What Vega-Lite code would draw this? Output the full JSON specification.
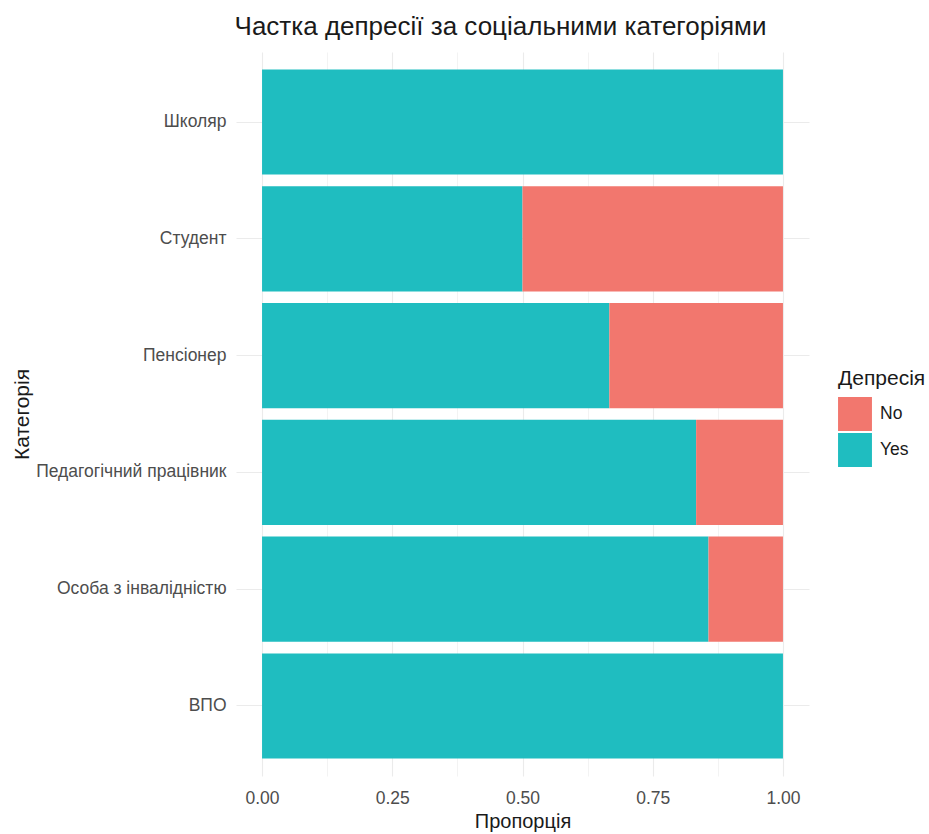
{
  "$schema": "https://vega.github.io/schema/vega-lite/v6.json",
  "width": 573,
  "height": 724,
  "autosize": {"type": "none"},
  "padding": {"left": 236, "top": 52, "right": 120, "bottom": 58},
  "background": "white",
  "config": {
    "font": "Liberation Sans",
    "view": {"stroke": null},
    "axis": {"labelFont": "Liberation Sans", "titleFont": "Liberation Sans"}
  },
  "title": {
    "text": "Частка депресії за соціальними категоріями",
    "fontSize": 26,
    "fontWeight": "normal",
    "color": "#1a1a1a",
    "anchor": "middle",
    "dx": -22,
    "offset": 12
  },
  "data": {
    "values": [
      {"category": "Школяр", "depression": "Yes", "proportion": 1.0},
      {"category": "Студент", "depression": "Yes", "proportion": 0.5},
      {"category": "Студент", "depression": "No", "proportion": 0.5},
      {"category": "Пенсіонер", "depression": "Yes", "proportion": 0.6667},
      {"category": "Пенсіонер", "depression": "No", "proportion": 0.3333},
      {"category": "Педагогічний працівник", "depression": "Yes", "proportion": 0.8333},
      {"category": "Педагогічний працівник", "depression": "No", "proportion": 0.1667},
      {"category": "Особа з інвалідністю", "depression": "Yes", "proportion": 0.8571},
      {"category": "Особа з інвалідністю", "depression": "No", "proportion": 0.1429},
      {"category": "ВПО", "depression": "Yes", "proportion": 1.0}
    ]
  },
  "mark": {"type": "bar"},
  "encoding": {
    "y": {
      "field": "category",
      "type": "nominal",
      "sort": ["Школяр", "Студент", "Пенсіонер", "Педагогічний працівник", "Особа з інвалідністю", "ВПО"],
      "scale": {"paddingInner": 0.1, "paddingOuter": 0.15},
      "axis": {
        "title": "Категорія",
        "titleFontSize": 21,
        "titleFontWeight": "normal",
        "titleColor": "#1a1a1a",
        "titlePadding": 4,
        "labelFontSize": 17.5,
        "labelLimit": 400,
        "labelColor": "#4D4D4D",
        "labelPadding": 10,
        "ticks": false,
        "domain": false,
        "grid": true,
        "gridColor": "#EBEBEB",
        "gridWidth": 1.1,
        "bandPosition": 0.5
      }
    },
    "x": {
      "field": "proportion",
      "type": "quantitative",
      "stack": "zero",
      "scale": {"domain": [-0.05, 1.05], "nice": false, "zero": false},
      "axis": {
        "title": "Пропорція",
        "titleFontSize": 20,
        "titleFontWeight": "normal",
        "titleColor": "#1a1a1a",
        "titlePadding": 5,
        "values": [0, 0.125, 0.25, 0.375, 0.5, 0.625, 0.75, 0.875, 1],
        "labelExpr": "(datum.value * 4) % 1 == 0 ? format(datum.value, '.2f') : ''",
        "labelFontSize": 17.5,
        "labelColor": "#4D4D4D",
        "labelPadding": 13,
        "ticks": false,
        "domain": false,
        "grid": true,
        "gridColor": "#EBEBEB",
        "gridWidth": {"condition": {"test": "(datum.value * 4) % 1 == 0", "value": 1.1}, "value": 0.6}
      }
    },
    "color": {
      "field": "depression",
      "type": "nominal",
      "scale": {"domain": ["No", "Yes"], "range": ["#F2776E", "#1FBDC0"]},
      "legend": {
        "title": "Депресія",
        "orient": "none",
        "legendX": 602,
        "legendY": 316,
        "titleFontSize": 21,
        "titleFontWeight": "normal",
        "titleColor": "#1a1a1a",
        "titlePadding": 8,
        "labelFontSize": 17.5,
        "labelColor": "#1a1a1a",
        "labelOffset": 8,
        "symbolType": "square",
        "symbolSize": 1150,
        "symbolStrokeWidth": 0,
        "symbolOpacity": 1,
        "rowPadding": 2
      }
    },
    "order": {"field": "depression", "sort": "descending"}
  }
}
